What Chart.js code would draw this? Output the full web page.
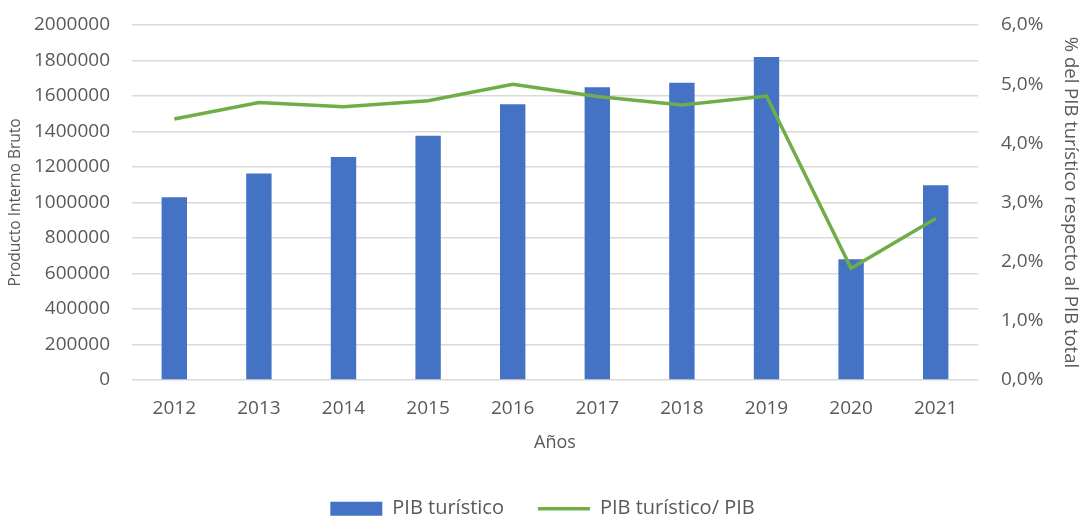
<!DOCTYPE html>
<html>
<head>
<meta charset="utf-8">
<script src="https://cdn.jsdelivr.net/npm/chart.js@4/dist/chart.umd.min.js"></script>
<style>
  html, body { margin: 0; padding: 0; background: #ffffff; }
  #wrap { width: 1081px; height: 518px; position: relative; }
</style>
</head>
<body>
<div id="wrap"><canvas id="c"></canvas></div>
<script>
const years = ['2012','2013','2014','2015','2016','2017','2018','2019','2020','2021'];
const pibTuristico = [1029000, 1164000, 1256000, 1376000, 1553000, 1649000, 1675000, 1820000, 680000, 1097000];
const pibRatio = [4.41, 4.69, 4.62, 4.72, 5.00, 4.79, 4.65, 4.80, 1.89, 2.73];
const leftTicksMax = 2000000;
const leftTickStep = 200000;
const rightTicksMax = 6;
const rightTickStep = 1;

const FONT = "'Open Sans', 'DejaVu Sans', sans-serif";
const TXT = '#595959';

new Chart(document.getElementById('c'), {
  data: {
    labels: years,
    datasets: [
      {
        type: 'line',
        label: 'PIB turístico/ PIB',
        data: pibRatio,
        yAxisID: 'y1',
        borderColor: '#70AD47',
        backgroundColor: '#70AD47',
        borderWidth: 3.5,
        pointRadius: 0,
        pointStyle: 'line',
        tension: 0,
        order: 0
      },
      {
        type: 'bar',
        label: 'PIB turístico',
        data: pibTuristico,
        yAxisID: 'y',
        backgroundColor: '#4472C4',
        borderWidth: 0,
        barPercentage: 0.30,
        categoryPercentage: 1.0,
        pointStyle: 'rect',
        order: 1
      }
    ]
  },
  options: {
    responsive: true,
    maintainAspectRatio: false,
    animation: false,
    devicePixelRatio: 1,
    layout: { padding: { top: 25, left: 4, right: 0, bottom: -10.7 } },
    plugins: {
      tooltip: { enabled: false },
      legend: {
        position: 'bottom',
        reverse: true,
        labels: {
          usePointStyle: true,
          pointStyleWidth: 52,
          boxHeight: 14,
          padding: 34,
          color: TXT,
          font: { family: FONT, size: 20 }
        }
      }
    },
    scales: {
      x: {
        grid: { display: false },
        border: { display: false },
        ticks: { color: TXT, font: { family: FONT, size: 19 }, padding: 9 },
        title: { display: true, text: 'Años', color: TXT, font: { family: FONT, size: 18 }, padding: { top: 0, bottom: 11 } },
        afterFit: (s) => { s.height = 84.7; }
      },
      y: {
        position: 'left',
        min: 0,
        max: leftTicksMax,
        ticks: { stepSize: leftTickStep, color: TXT, font: { family: FONT, size: 19 }, padding: 2,
                 callback: (v) => String(v) },
        grid: { color: '#D9D9D9', lineWidth: 1.5, drawTicks: true, tickLength: 20, tickColor: 'rgba(0,0,0,0)' },
        border: { display: false },
        title: { display: true, text: 'Producto Interno Bruto', color: TXT, font: { family: FONT, size: 15.5 }, padding: { top: 2, bottom: 0 } },
        afterFit: (s) => { s.width = 128; }
      },
      y1: {
        position: 'right',
        min: 0,
        max: rightTicksMax,
        ticks: { stepSize: rightTickStep, color: TXT, font: { family: FONT, size: 19 }, padding: 3,
                 callback: (v) => v.toFixed(1).replace('.', ',') + '%' },
        grid: { display: false, drawTicks: true, tickLength: 20 },
        border: { display: false },
        title: { display: true, text: '% del PIB turístico respecto al PIB total', color: TXT, font: { family: FONT, size: 18.5 }, padding: { top: 0, bottom: 0 } },
        afterFit: (s) => { s.width = 103; }
      }
    }
  }
});
</script>
</body>
</html>
